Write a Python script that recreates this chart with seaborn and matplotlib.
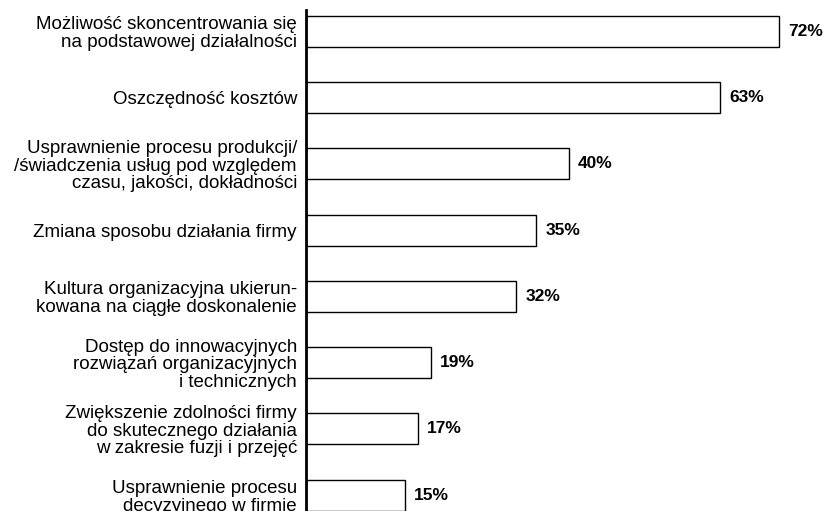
import pandas as pd
import matplotlib.pyplot as plt
import seaborn as sns

categories = [
    "Możliwość skoncentrowania się\nna podstawowej działalności",
    "Oszczędność kosztów",
    "Usprawnienie procesu produkcji/\n/świadczenia usług pod względem\nczasu, jakości, dokładności",
    "Zmiana sposobu działania firmy",
    "Kultura organizacyjna ukierun-\nkowana na ciągłe doskonalenie",
    "Dostęp do innowacyjnych\nrozwiązań organizacyjnych\ni technicznych",
    "Zwiększenie zdolności firmy\ndo skutecznego działania\nw zakresie fuzji i przejęć",
    "Usprawnienie procesu\ndecyzyjnego w firmie",
]
values = [72, 63, 40, 35, 32, 19, 17, 15]

df = pd.DataFrame({"kategoria": categories, "procent": values})

sns.set_style("white")
plt.rcParams['font.family'] = ['Liberation Sans', 'DejaVu Sans']
plt.rcParams['text.color'] = 'black'
plt.rcParams['ytick.color'] = 'black'
plt.rcParams['ytick.labelcolor'] = 'black'

fig = plt.figure(figsize=(8.27, 5.11), dpi=100)
ax = fig.add_axes([0.370, 0.0, 0.630, 0.980])

sns.barplot(data=df, y="kategoria", x="procent", orient="h", color="white",
            edgecolor="black", linewidth=1.0, width=0.47, ax=ax)

for i, v in enumerate(values):
    ax.text(v + 1.4, i, f"{v}%", va="center", ha="left", fontsize=12.5,
            fontweight="bold", color="black", clip_on=False)

ax.set_xlim(0, 79.3)
ax.set_ylim(7.24, -0.32)
ax.set_xlabel("")
ax.set_ylabel("")
ax.set_xticks([])
ax.tick_params(axis="y", length=0, pad=6.5, labelsize=13.5)
for lbl in ax.get_yticklabels():
    lbl.set_linespacing(1.04)
for s in ["top", "right", "bottom"]:
    ax.spines[s].set_visible(False)
ax.spines["left"].set_linewidth(2)
ax.spines["left"].set_color("black")

fig.savefig("out.png", dpi=100)
